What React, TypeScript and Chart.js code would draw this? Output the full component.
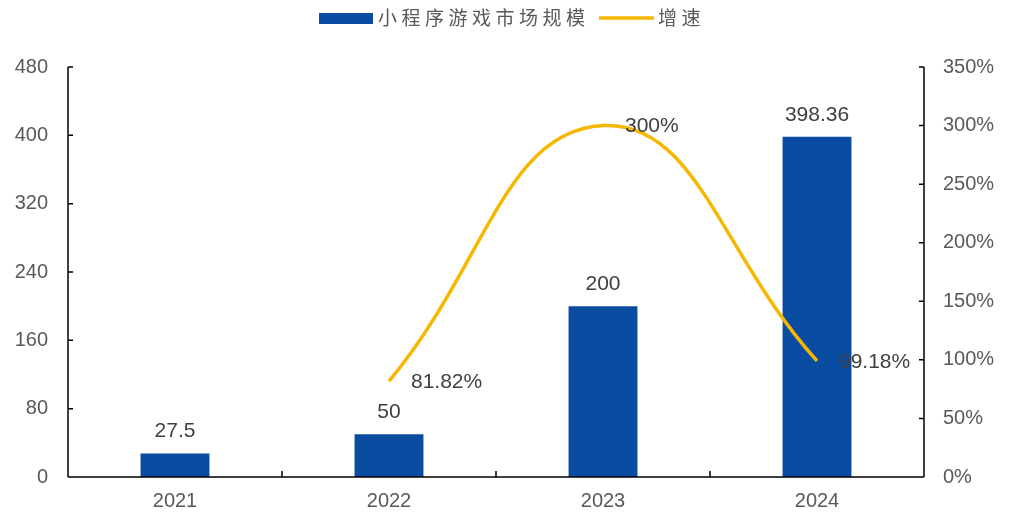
import React, { useEffect, useRef } from "react";
import { Chart, registerables } from "chart.js";

Chart.register(...registerables);

const categories = ["2021", "2022", "2023", "2024"];
const marketSize = [27.5, 50, 200, 398.36];
const growthRate: (number | null)[] = [null, 81.82, 300, 99.18];
const seriesNames = ["小程序游戏市场规模", "增速"];
const leftAxis = { min: 0, max: 480, step: 80 };
const rightAxis = { min: 0, max: 350, step: 50 };

const BAR_COLOR = "#0B4CA3";
const LINE_COLOR = "#F6B700";
const TICK_COLOR = "#595959";
const LABEL_COLOR = "#404040";
const NUM_FONT = "Liberation Sans, Arial, sans-serif";
const CJK_FONT = "'Noto Sans CJK SC', sans-serif";

const axesPlugin = {
  id: "axesPlugin",
  afterDatasetsDraw(chart: any) {
    const { ctx, chartArea } = chart;
    const { left, right, top, bottom } = chartArea;
    const y = chart.scales.y;
    const y1 = chart.scales.y1;
    const x = chart.scales.x;
    ctx.save();
    ctx.strokeStyle = "#000";
    ctx.lineWidth = 1.5;
    ctx.beginPath();
    ctx.moveTo(left, top);
    ctx.lineTo(left, bottom);
    ctx.moveTo(right, top);
    ctx.lineTo(right, bottom);
    ctx.moveTo(left, bottom);
    ctx.lineTo(right, bottom);
    y.ticks.forEach((t: any) => {
      const py = y.getPixelForValue(t.value);
      ctx.moveTo(left, py);
      ctx.lineTo(left + 5, py);
    });
    y1.ticks.forEach((t: any) => {
      const py = y1.getPixelForValue(t.value);
      ctx.moveTo(right, py);
      ctx.lineTo(right - 5, py);
    });
    for (let i = 1; i < categories.length; i++) {
      const px = (x.getPixelForValue(i - 1) + x.getPixelForValue(i)) / 2;
      ctx.moveTo(px, bottom);
      ctx.lineTo(px, bottom - 6);
    }
    ctx.stroke();

    // data labels
    ctx.fillStyle = LABEL_COLOR;
    ctx.font = `21px ${NUM_FONT}`;
    ctx.textBaseline = "middle";
    const barMeta = chart.getDatasetMeta(1);
    barMeta.data.forEach((el: any, i: number) => {
      ctx.textAlign = "center";
      ctx.fillText(String(marketSize[i]), el.x, el.y - 22);
    });
    const lineMeta = chart.getDatasetMeta(0);
    lineMeta.data.forEach((el: any, i: number) => {
      const v = growthRate[i];
      if (v === null || v === undefined) return;
      ctx.textAlign = "left";
      ctx.fillText(`${v}%`, el.x + 22, el.y + 1);
    });
    ctx.restore();
  },
  afterDraw(chart: any) {
    const { ctx } = chart;
    ctx.save();
    // legend
    ctx.fillStyle = BAR_COLOR;
    ctx.fillRect(319, 13, 54, 11);
    ctx.font = `19px ${CJK_FONT}`;
    ctx.fillStyle = TICK_COLOR;
    ctx.textBaseline = "middle";
    ctx.textAlign = "left";
    const advance = 23.5;
    Array.from(seriesNames[0]).forEach((ch, i) => {
      ctx.fillText(ch, 378 + i * advance, 18);
    });
    ctx.strokeStyle = LINE_COLOR;
    ctx.lineWidth = 3.5;
    ctx.beginPath();
    ctx.moveTo(599, 18);
    ctx.lineTo(654, 18);
    ctx.stroke();
    Array.from(seriesNames[1]).forEach((ch, i) => {
      ctx.fillText(ch, 658 + i * advance, 18);
    });
    ctx.restore();
  },
};

export default function App() {
  const ref = useRef<HTMLCanvasElement | null>(null);
  useEffect(() => {
    document.body.style.margin = "0";
    const canvas = ref.current;
    if (!canvas) return;
    const chart = new Chart(canvas, {
      type: "bar",
      data: {
        labels: categories,
        datasets: [
          {
            type: "line",
            label: seriesNames[1],
            data: growthRate,
            yAxisID: "y1",
            borderColor: LINE_COLOR,
            backgroundColor: LINE_COLOR,
            borderWidth: 3.5,
            pointRadius: 0,
            tension: 0.45,
            fill: false,
            order: 0,
          } as any,
          {
            type: "bar",
            label: seriesNames[0],
            data: marketSize,
            yAxisID: "y",
            backgroundColor: BAR_COLOR,
            barPercentage: 0.322,
            categoryPercentage: 1,
            order: 1,
          },
        ],
      },
      options: {
        responsive: false,
        animation: false,
        layout: { padding: { top: 67, left: 0, right: 0, bottom: 0 } },
        plugins: {
          legend: { display: false },
          tooltip: { enabled: false },
        },
        scales: {
          x: {
            offset: true,
            grid: { display: false, drawTicks: false },
            border: { display: false },
            ticks: {
              color: TICK_COLOR,
              font: { family: NUM_FONT, size: 20 },
              padding: 12,
            },
            afterFit: (s: any) => {
              s.height = 38;
            },
          },
          y: {
            position: "left",
            min: leftAxis.min,
            max: leftAxis.max,
            grid: { display: false, drawTicks: false },
            border: { display: false },
            ticks: {
              stepSize: leftAxis.step,
              color: TICK_COLOR,
              font: { family: NUM_FONT, size: 20 },
              padding: 20,
            },
            afterFit: (s: any) => {
              s.width = 68;
            },
          },
          y1: {
            position: "right",
            min: rightAxis.min,
            max: rightAxis.max,
            grid: { display: false, drawTicks: false },
            border: { display: false },
            ticks: {
              stepSize: rightAxis.step,
              color: TICK_COLOR,
              font: { family: NUM_FONT, size: 20 },
              padding: 19,
              callback: (v: any) => `${v}%`,
            },
            afterFit: (s: any) => {
              s.width = 85;
            },
          },
        },
      },
      plugins: [axesPlugin],
    });
    return () => chart.destroy();
  }, []);
  return (
    <div style={{ width: 1009, height: 515 }}>
      <canvas ref={ref} width={1009} height={515} style={{ width: 1009, height: 515, display: "block" }} />
    </div>
  );
}
